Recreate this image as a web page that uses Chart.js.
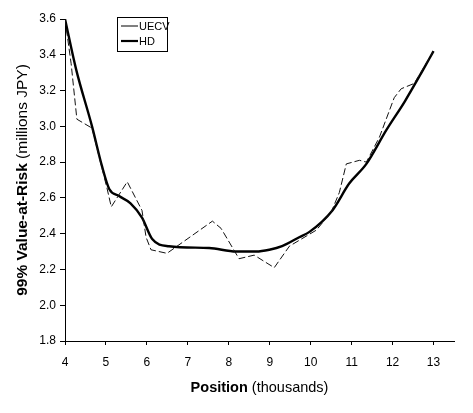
<!DOCTYPE html>
<html><head><meta charset="utf-8">
<script src="https://cdn.jsdelivr.net/npm/chart.js@4/dist/chart.umd.min.js"></script>
<style>html,body{margin:0;padding:0;background:#fff}#wrap{width:473px;height:413px}</style>
</head><body><div id="wrap"><canvas id="c" width="473" height="413"></canvas></div>
<script>
const uecvX = [4.0, 4.15, 4.29, 4.66, 5.03, 5.13, 5.52, 5.88, 5.98, 6.1, 6.49, 6.86, 7.6, 7.81, 8.25, 8.62, 9.11, 9.48, 10.14, 10.5, 10.7, 10.87, 11.19, 11.36, 11.68, 12.04, 12.21, 12.53, 13.0];
const uecvY = [3.6, 3.35, 3.04, 2.99, 2.65, 2.55, 2.69, 2.53, 2.38, 2.31, 2.29, 2.35, 2.47, 2.43, 2.26, 2.28, 2.21, 2.33, 2.42, 2.52, 2.63, 2.79, 2.81, 2.80, 2.94, 3.16, 3.21, 3.24, 3.42];
const hdX = [4.0, 4.27, 4.66, 4.9, 5.08, 5.32, 5.6, 5.88, 6.13, 6.54, 7.52, 8.18, 8.67, 8.99, 9.3, 9.72, 9.97, 10.53, 10.94, 11.36, 11.85, 12.3, 12.73, 13.0];
const hdY = [3.6, 3.32, 3.0, 2.78, 2.65, 2.61, 2.57, 2.49, 2.37, 2.33, 2.32, 2.30, 2.30, 2.31, 2.33, 2.38, 2.41, 2.53, 2.68, 2.79, 2.98, 3.14, 3.31, 3.42];
const xTicks = [4, 5, 6, 7, 8, 9, 10, 11, 12, 13];
const yTicks = [1.8, 2.0, 2.2, 2.4, 2.6, 2.8, 3.0, 3.2, 3.4, 3.6];
const seriesNames = ['UECV', 'HD'];
const xTitleBold = 'Position', xTitleRest = ' (thousands)';
const yTitleBold = '99% Value-at-Risk', yTitleRest = ' (millions JPY)';

const FONT = '"Liberation Sans", Arial, sans-serif';

const titlesAndLegend = {
  id: 'titlesAndLegend',
  afterDraw(chart) {
    const ctx = chart.ctx, a = chart.chartArea;
    ctx.save();
    ctx.fillStyle = '#000';
    ctx.textBaseline = 'middle';
    // x title
    const xf = 14.5;
    ctx.font = 'bold ' + xf + 'px ' + FONT;
    const wb = ctx.measureText(xTitleBold).width;
    ctx.font = xf + 'px ' + FONT;
    const wr = ctx.measureText(xTitleRest).width;
    let sx = (a.left + a.right) / 2 - (wb + wr) / 2;
    const ty = 388;
    ctx.font = 'bold ' + xf + 'px ' + FONT; ctx.textAlign = 'left';
    ctx.fillText(xTitleBold, sx, ty);
    ctx.font = xf + 'px ' + FONT;
    ctx.fillText(xTitleRest, sx + wb, ty);
    // y title
    const yf = 15.5;
    ctx.save();
    ctx.translate(23, (a.top + a.bottom) / 2);
    ctx.rotate(-Math.PI / 2);
    ctx.font = 'bold ' + yf + 'px ' + FONT;
    const yb = ctx.measureText(yTitleBold).width;
    ctx.font = yf + 'px ' + FONT;
    const yr = ctx.measureText(yTitleRest).width;
    let s2 = -(yb + yr) / 2;
    ctx.font = 'bold ' + yf + 'px ' + FONT;
    ctx.fillText(yTitleBold, s2, 0);
    ctx.font = yf + 'px ' + FONT;
    ctx.fillText(yTitleRest, s2 + yb, 0);
    ctx.restore();
    // legend
    ctx.strokeStyle = '#000'; ctx.lineWidth = 1;
    ctx.strokeRect(117.5, 17.5, 50, 34);
    const rows = [26, 41];
    chart.data.datasets.forEach((ds, i) => {
      ctx.beginPath();
      ctx.lineWidth = i === 0 ? 1 : 2.2;
      ctx.setLineDash([]);
      ctx.moveTo(121, rows[i]); ctx.lineTo(138, rows[i]); ctx.stroke();
      ctx.font = '11px ' + FONT;
      ctx.fillText(ds.label, 139, rows[i] + 0.5);
    });
    ctx.restore();
  }
};

new Chart(document.getElementById('c'), {
  type: 'line',
  data: {
    datasets: [
      { label: seriesNames[0], data: uecvX.map((x, i) => ({x, y: uecvY[i]})), borderColor: '#111', borderWidth: 1, borderDash: [7, 3], pointRadius: 0, tension: 0, fill: false },
      { label: seriesNames[1], data: hdX.map((x, i) => ({x, y: hdY[i]})), borderColor: '#000', borderWidth: 2.4, pointRadius: 0, cubicInterpolationMode: 'monotone', fill: false }
    ]
  },
  options: {
    responsive: false, animation: false,
    layout: { padding: { top: 19, right: 19, left: 0, bottom: 0 } },
    plugins: { legend: { display: false }, tooltip: { enabled: false } },
    scales: {
      x: {
        type: 'linear', min: 4, max: 13.5,
        afterBuildTicks: s => { s.ticks = xTicks.map(v => ({value: v})); },
        grid: { drawOnChartArea: false, drawTicks: true, tickLength: 4, color: '#000' },
        border: { display: true, color: '#000', width: 1 },
        ticks: { color: '#000', font: { family: FONT, size: 12 }, padding: 10, maxRotation: 0, callback: v => String(v) },
        afterFit: s => { s.height = 72; }
      },
      y: {
        type: 'linear', min: 1.8, max: 3.6,
        afterBuildTicks: s => { s.ticks = yTicks.map(v => ({value: v})); },
        grid: { drawOnChartArea: false, drawTicks: true, tickLength: 5, color: '#000' },
        border: { display: true, color: '#000', width: 1 },
        ticks: { color: '#000', font: { family: FONT, size: 12 }, padding: 4, callback: v => v.toFixed(1) },
        afterFit: s => { s.width = 65; }
      }
    }
  },
  plugins: [titlesAndLegend]
});
</script></body></html>
